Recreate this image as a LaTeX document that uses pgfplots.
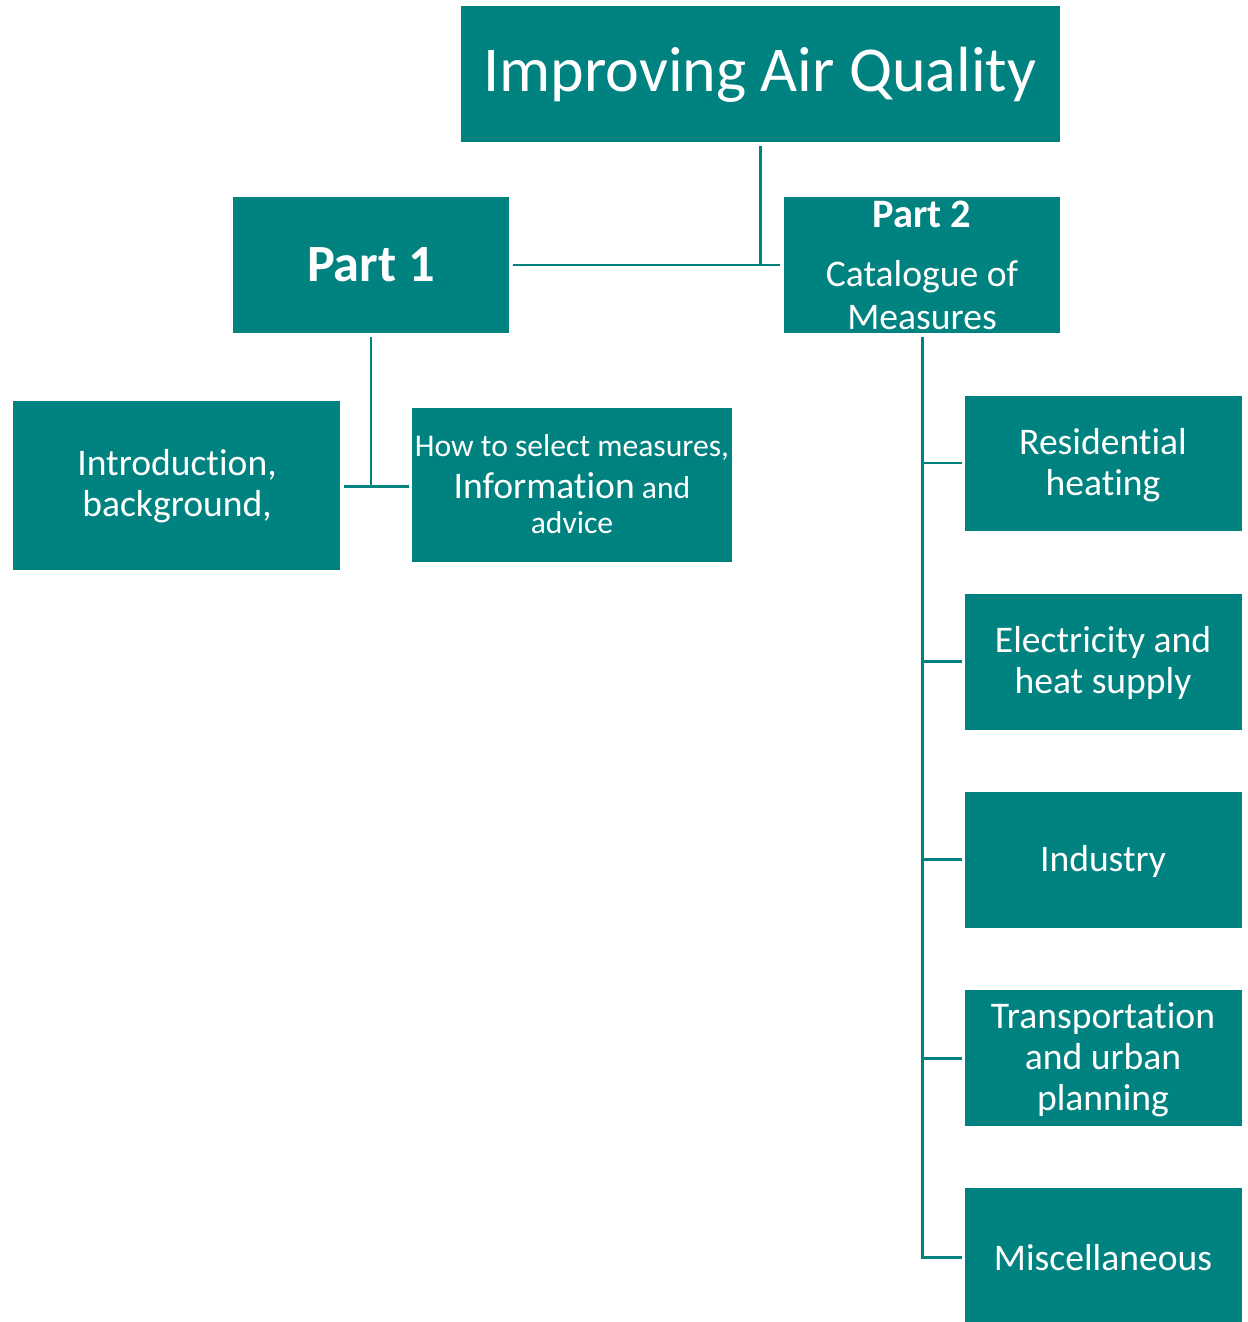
\documentclass[border=0pt]{standalone}
\usepackage{pgfplots}
\pgfplotsset{compat=1.18}
\usepackage{fontspec}
\setmainfont{Carlito}[Ligatures=CommonOff]
\definecolor{tealc}{RGB}{0,130,128}
\begin{document}
\begin{tikzpicture}
\begin{axis}[
  width=12.48cm, height=13.22cm, scale only axis,
  xmin=0, xmax=1248, ymin=0, ymax=1322, y dir=reverse,
  hide axis, clip=false,
]
\addplot[draw=none] coordinates {(0,0) (1248,1322)};
% boxes
\addplot[fill=tealc,draw=none] coordinates {(461,6) (1060,6) (1060,142) (461,142)} -- cycle;
\addplot[fill=tealc,draw=none] coordinates {(233,197) (509,197) (509,333) (233,333)} -- cycle;
\addplot[fill=tealc,draw=none] coordinates {(784,197) (1060,197) (1060,333) (784,333)} -- cycle;
\addplot[fill=tealc,draw=none] coordinates {(13,401) (340,401) (340,570) (13,570)} -- cycle;
\addplot[fill=tealc,draw=none] coordinates {(412,408) (732,408) (732,562) (412,562)} -- cycle;
\addplot[fill=tealc,draw=none] coordinates {(965,396) (1242,396) (1242,531) (965,531)} -- cycle;
\addplot[fill=tealc,draw=none] coordinates {(965,594) (1242,594) (1242,730) (965,730)} -- cycle;
\addplot[fill=tealc,draw=none] coordinates {(965,792) (1242,792) (1242,928) (965,928)} -- cycle;
\addplot[fill=tealc,draw=none] coordinates {(965,990) (1242,990) (1242,1126) (965,1126)} -- cycle;
\addplot[fill=tealc,draw=none] coordinates {(965,1188) (1242,1188) (1242,1322) (965,1322)} -- cycle;
% connectors
\addplot[tealc,line width=0.85pt] coordinates {(760,146) (760,265)};
\addplot[tealc,line width=0.85pt] coordinates {(513,265) (780,265)};
\addplot[tealc,line width=0.85pt] coordinates {(371,337) (371,486)};
\addplot[tealc,line width=0.85pt] coordinates {(344,486) (409,486)};
\addplot[tealc,line width=0.85pt] coordinates {(922,337) (922,1257) (962,1257)};
\addplot[tealc,line width=0.85pt] coordinates {(922,463) (962,463)};
\addplot[tealc,line width=0.85pt] coordinates {(922,661) (962,661)};
\addplot[tealc,line width=0.85pt] coordinates {(922,859) (962,859)};
\addplot[tealc,line width=0.85pt] coordinates {(922,1058) (962,1058)};
% texts
\node[text=white,font=\fontsize{18.2}{22}\selectfont] at (axis cs:760,75) {Improving Air Quality};
\node[text=white,font=\fontsize{14.9}{18}\selectfont\bfseries] at (axis cs:371,265) {Part 1};
\node[text=white,font=\fontsize{11.5}{14}\selectfont\bfseries] at (axis cs:922,214) {Part 2};
\node[text=white,font=\fontsize{10.7}{13}\selectfont] at (axis cs:922,277) {Catalogue of};
\node[text=white,font=\fontsize{10.7}{13}\selectfont] at (axis cs:922,318) {Measures};
\node[text=white,font=\fontsize{10.7}{11.6}\selectfont,align=center] at (axis cs:177,486) {Introduction,\\background,};
\node[text=white,font=\fontsize{9.0}{12}\selectfont] at (axis cs:572,448) {How to select measures,};
\node[text=white,font=\fontsize{9.0}{12}\selectfont] at (axis cs:572,486) {{\fontsize{10.7}{13}\selectfont Information} and};
\node[text=white,font=\fontsize{9.0}{12}\selectfont] at (axis cs:572,523) {advice};
\node[text=white,font=\fontsize{10.7}{11.6}\selectfont,align=center] at (axis cs:1103,465) {Residential\\heating};
\node[text=white,font=\fontsize{10.7}{11.6}\selectfont,align=center] at (axis cs:1103,663) {Electricity and\\heat supply};
\node[text=white,font=\fontsize{10.7}{11.6}\selectfont,align=center] at (axis cs:1103,861) {Industry};
\node[text=white,font=\fontsize{10.7}{11.6}\selectfont,align=center] at (axis cs:1103,1060) {Transportation\\and urban\\planning};
\node[text=white,font=\fontsize{10.7}{11.6}\selectfont,align=center] at (axis cs:1103,1258) {Miscellaneous};
\end{axis}
\end{tikzpicture}
\end{document}
